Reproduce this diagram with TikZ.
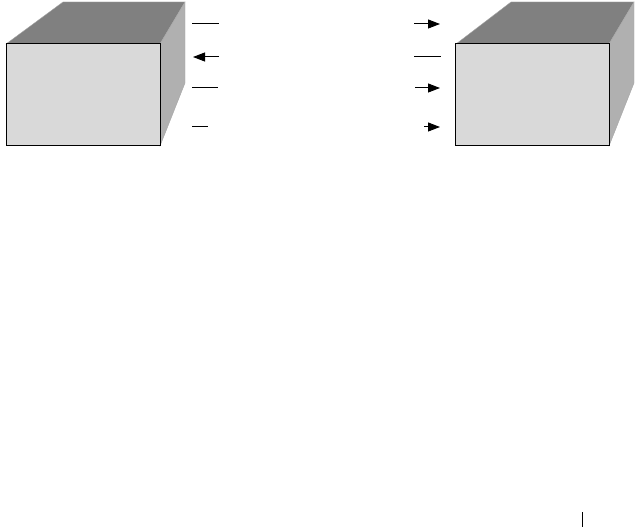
\documentclass[tikz,border=0pt]{standalone}
\usepackage{tikz}
\usetikzlibrary{arrows.meta, positioning}
\definecolor{facefront}{RGB}{217,217,217}
\definecolor{facetop}{RGB}{128,128,128}
\definecolor{faceside}{RGB}{176,176,176}
\tikzset{
  frontface/.style={rectangle, draw=black, line width=1pt, fill=facefront,
                    minimum width=154pt, minimum height=102pt, inner sep=0pt},
  stub/.style={line width=1pt},
  stubarrow/.style={line width=1pt, -{Triangle[length=12pt, width=9pt]}}
}

\begin{document}
\begin{tikzpicture}[x=1pt, y=-1pt]
    \useasboundingbox (0,0) rectangle (641,527);
    % --- Caixa esquerda ---
    \filldraw[facetop, draw=gray!70] (6,44) -- (63,2) -- (185,2) -- (160,44) -- cycle;
    \filldraw[faceside, draw=gray!70] (160,44) -- (185,2) -- (185,83) -- (160,146) -- cycle;
    \node[frontface] (left) at (83,95) {};
    % --- Caixa direita ---
    \filldraw[facetop, draw=gray!70] (456,44) -- (511,2) -- (634,2) -- (609,44) -- cycle;
    \filldraw[faceside, draw=gray!70] (609,44) -- (634,2) -- (634,83) -- (609,146) -- cycle;
    \node[frontface] (right) at (532.5,95) {};
    % --- Pontas das linhas ---
    \coordinate (la1) at (192,24);  \coordinate (lb1) at (219,24);
    \coordinate (la2) at (193,57);  \coordinate (lb2) at (219,57);
    \coordinate (la3) at (192,88);  \coordinate (lb3) at (218,88);
    \coordinate (la4) at (192,127); \coordinate (lb4) at (208,127);
    \coordinate (ra1) at (414,24);  \coordinate (rb1) at (440,24);
    \coordinate (ra2) at (414,57);  \coordinate (rb2) at (441,57);
    \coordinate (ra3) at (415,88);  \coordinate (rb3) at (440,88);
    \coordinate (ra4) at (424,127); \coordinate (rb4) at (440,127);
    % Lado esquerdo
    \draw[stub] (la1) -- (lb1);
    \draw[stubarrow] (lb2) -- (la2);
    \draw[stub] (la3) -- (lb3);
    \draw[stub] (la4) -- (lb4);
    % Lado direito
    \draw[stubarrow] (ra1) -- (rb1);
    \draw[stub] (ra2) -- (rb2);
    \draw[stubarrow] (ra3) -- (rb3);
    \draw[stubarrow] (ra4) -- (rb4);
    % --- Marca inferior ---
    \coordinate (ticktop) at (582,512);
    \coordinate (tickbot) at (582,527);
    \draw[line width=1pt] (ticktop) -- (tickbot);
\end{tikzpicture}
\end{document}
